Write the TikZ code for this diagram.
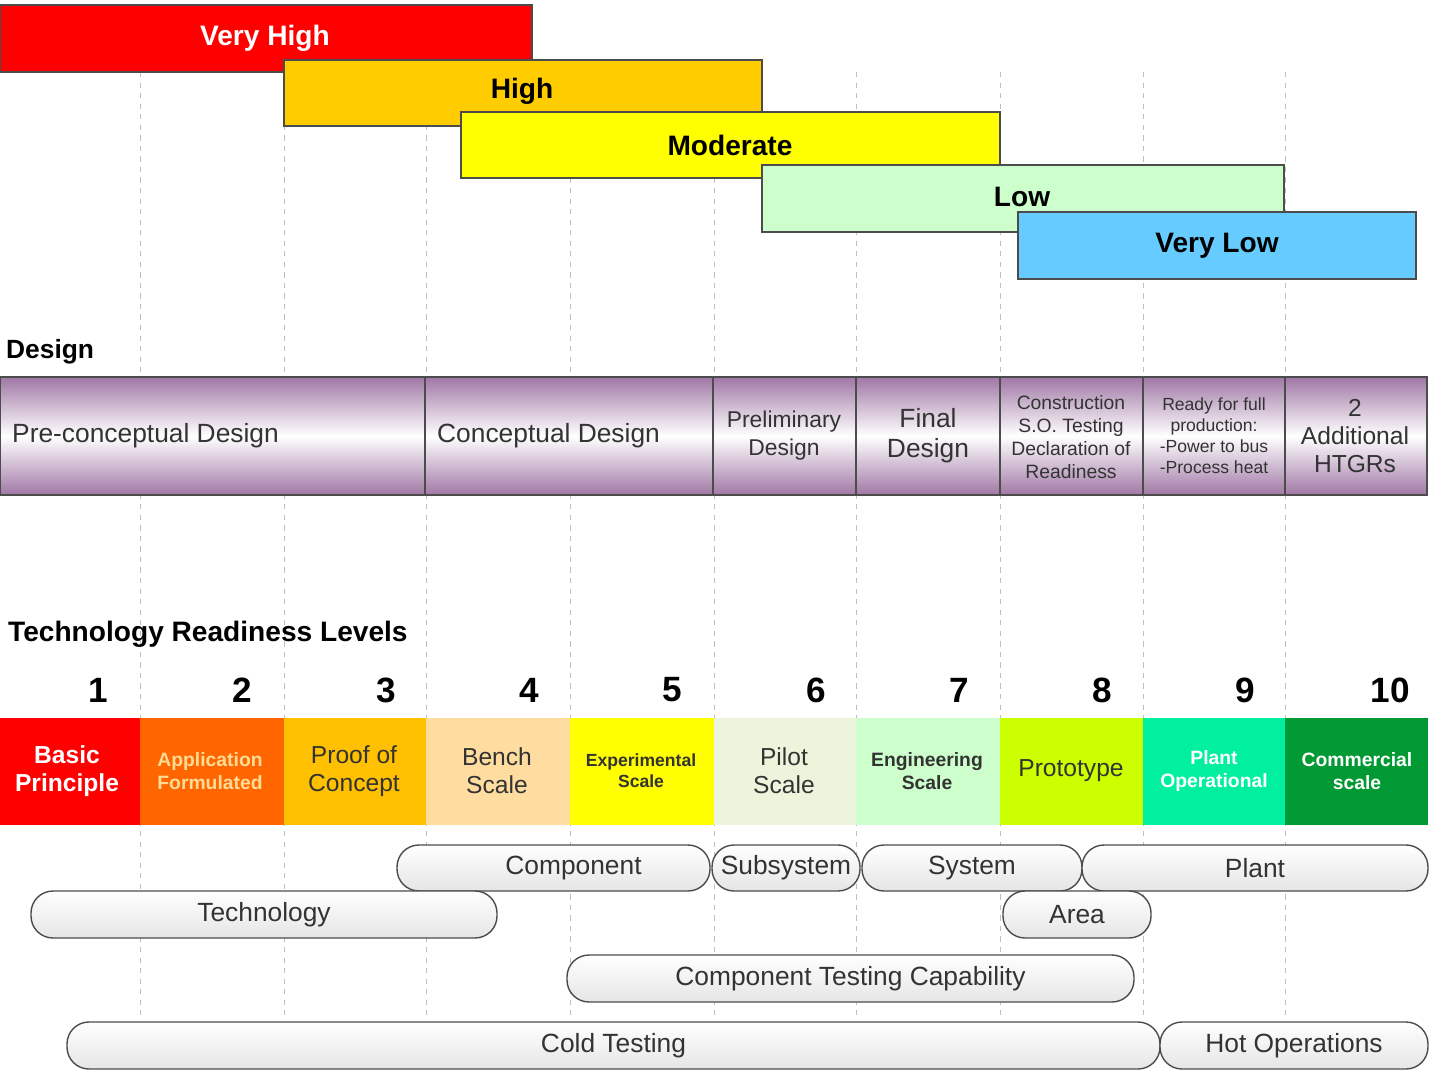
\documentclass[tikz,border=0pt]{standalone}
\usepackage{fontspec}
\setmainfont{Liberation Sans}
\definecolor{cA}{RGB}{255,0,0}
\definecolor{cB}{RGB}{255,102,0}
\definecolor{cC}{RGB}{255,192,0}
\definecolor{cD}{RGB}{255,221,160}
\definecolor{cE}{RGB}{255,255,0}
\definecolor{cF}{RGB}{236,245,220}
\definecolor{cG}{RGB}{204,255,204}
\definecolor{cH}{RGB}{204,255,0}
\definecolor{cI}{RGB}{0,240,160}
\definecolor{cJ}{RGB}{0,153,51}
\definecolor{rH}{RGB}{255,204,0}
\definecolor{rL}{RGB}{102,204,255}
\definecolor{aT}{RGB}{255,220,150}
\definecolor{pu}{RGB}{160,120,165}
\begin{document}
\begin{tikzpicture}[x=0.02cm,y=-0.02cm,
 risk/.style={draw=black!70,line width=0.8pt},
 rt/.style={font=\bfseries\fontsize{16}{18}\selectfont},
 dz/.style={draw=black!70,line width=0.8pt,top color=pu,bottom color=pu,middle color=white},
 dt/.style={align=center,font=\fontsize{15}{17}\selectfont,text=black!80},
 ds/.style={align=center,font=\fontsize{11}{13}\selectfont,text=black!80},
 tt/.style={align=center,font=\bfseries\fontsize{14}{16}\selectfont},
 ts/.style={align=center,font=\bfseries\fontsize{11}{13}\selectfont},
 pill/.style={draw=black!70,line width=0.8pt,rounded corners=12.5pt,top color=white,bottom color=gray!20},
 pt/.style={font=\fontsize{15}{17}\selectfont,text=black!80},
 num/.style={font=\bfseries\fontsize{20}{22}\selectfont}]
\useasboundingbox (0,0) rectangle (1448,1072);
% grid
\foreach \x in {140,284,426,570,714,856,1000,1143,1285}
  \draw[gray!50,dashed] (\x,72) -- (\x,1020);
% risk bars
\draw[risk,fill=cA] (0,5) rectangle (532,72);
\node[rt,text=white] (vh) at (265,38) {Very High};
\draw[risk,fill=rH] (284,60) rectangle (762,126);
\node[rt] (h) at (522,91) {High};
\draw[risk,fill=cE] (461,112) rectangle (1000,178);
\node[rt] (m) at (730,145) {Moderate};
\draw[risk,fill=cG] (762,165) rectangle (1284,232);
\node[rt] (l) at (1022,197) {Low};
\draw[risk,fill=rL] (1018,212) rectangle (1416,279);
\node[rt] (vl) at (1217,246) {Very Low};
% design
\node[anchor=west,font=\bfseries\fontsize{15}{17}\selectfont] (dl) at (0,352) {Design};
\foreach \a/\b in {0/425,425/713,713/856,856/1000,1000/1143,1143/1285,1285/1427}
  \draw[dz] (\a,377) rectangle (\b,495);
\node[dt,anchor=west] (d1) at (6,436) {Pre-conceptual Design};
\node[dt,anchor=west] (d2) at (431,436) {Conceptual Design};
\node[dt,font=\fontsize{13}{16}\selectfont] (d3) at (784,436) {Preliminary\\Design};
\node[dt] (d4) at (928,436) {Final\\Design};
\node[ds] (d5) at (1071,437) {Construction\\S.O. Testing\\Declaration of\\Readiness};
\node[ds,font=\fontsize{10}{12}\selectfont] (d6) at (1214,436) {Ready for full\\production:\\-Power to bus\\-Process heat};
\node[dt,font=\fontsize{14}{16}\selectfont] (d7) at (1355,436) {2\\Additional\\HTGRs};
% TRL
\node[anchor=west,font=\bfseries\fontsize{16}{18}\selectfont] (tl) at (2,634) {Technology Readiness Levels};
\foreach \i/\x in {1/98,2/242,3/386,4/529,5/672,6/816,7/959,8/1102,9/1245,10/1390}
  \node[num] (n\i) at (\x,690) {\i};
\foreach \a/\b/\c in {0/140/cA,140/284/cB,284/426/cC,426/570/cD,570/714/cE,714/856/cF,856/1000/cG,1000/1143/cH,1143/1285/cI,1285/1428/cJ}
  \fill[\c] (\a,718) rectangle (\b,825);
\node[tt,text=white] (t1) at (67,771) {Basic\\Principle};
\node[ts,text=aT] (t2) at (210,771) {Application\\Formulated};
\node[tt,font=\fontsize{14}{16}\selectfont,text=black!80] (t3) at (354,771) {Proof of\\Concept};
\node[tt,font=\fontsize{14}{16}\selectfont,text=black!80] (t4) at (497,771) {Bench\\Scale};
\node[ts,font=\bfseries\fontsize{10}{12}\selectfont,text=black!80] (t5) at (641,771) {Experimental\\Scale};
\node[tt,font=\fontsize{14}{16}\selectfont,text=black!80] (t6) at (784,771) {Pilot\\Scale};
\node[ts,text=black!80] (t7) at (927,771) {Engineering\\Scale};
\node[tt,font=\fontsize{14}{16}\selectfont,text=black!80] (t8) at (1071,771) {Prototype};
\node[ts,text=white] (t9) at (1214,771) {Plant\\Operational};
\node[ts,text=white] (t10) at (1357,771) {Commercial\\scale};
% pills
\foreach \a/\b/\c/\d/\t/\n/\o in {397/710/845/891/Component/p1/20,712/860/845/891/Subsystem/p2/0,862/1082/845/891/System/p3/0,1082/1428/845/891/Plant/p4/0,31/497/891/938/Technology/p5/0,1003/1151/891/938/Area/p6/0,567/1134/955/1002/Component Testing Capability/p7/0,67/1160/1022/1069/Cold Testing/p8/0,1160/1428/1022/1069/Hot Operations/p9/0}{
  \draw[pill] (\a,\c) rectangle (\b,\d);
  \node[pt] (\n) at ({(\a+\b)/2+\o},{(\c+\d)/2}) {\t};
}
\end{tikzpicture}
\end{document}
